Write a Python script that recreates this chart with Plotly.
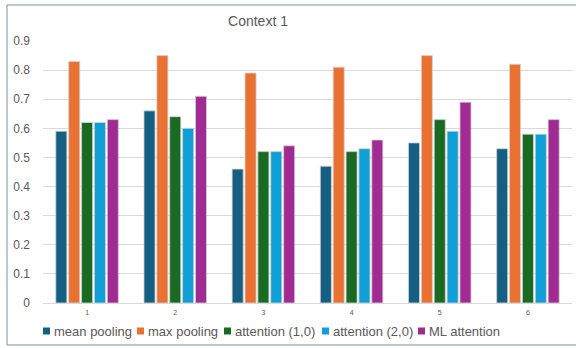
import plotly.graph_objects as go

categories = ["1", "2", "3", "4", "5", "6"]
mean_pooling = [0.59, 0.66, 0.46, 0.47, 0.55, 0.53]
max_pooling = [0.83, 0.85, 0.79, 0.81, 0.85, 0.82]
attention_10 = [0.62, 0.64, 0.52, 0.52, 0.63, 0.58]
attention_20 = [0.62, 0.60, 0.52, 0.53, 0.59, 0.58]
ml_attention = [0.63, 0.71, 0.54, 0.56, 0.69, 0.63]

series = [
    ("mean pooling", mean_pooling, "#156082"),
    ("max pooling", max_pooling, "#E97132"),
    ("attention (1,0)", attention_10, "#196B24"),
    ("attention (2,0)", attention_20, "#0F9ED5"),
    ("ML attention", ml_attention, "#A02B93"),
]

W, H = 576, 348
L, R, T, B = 43, 4, 41, 45

fig = go.Figure()
for name, vals, col in series:
    fig.add_trace(go.Bar(
        x=categories, y=vals, name=name,
        marker=dict(color=col, line=dict(color="#d4d4d4", width=0.8)),
    ))

pw = W - L - R
ph = H - T - B

def px_x(p):
    return (p - L) / pw

def px_y(p):
    return (H - B - p) / ph

shapes = [dict(type="rect", xref="paper", yref="paper",
               x0=px_x(7), x1=px_x(640), y0=px_y(345), y1=px_y(5),
               line=dict(color="#7f8f9c", width=1), fillcolor="rgba(0,0,0,0)",
               layer="below")]
annotations = []
# custom legend (symbol left x positions in px)
legend_x = [43, 137, 224, 322, 418]
ly = 331
for (name, vals, col), x0 in zip(series, legend_x):
    shapes.append(dict(type="rect", xref="paper", yref="paper",
                       x0=px_x(x0), x1=px_x(x0 + 7), y0=px_y(ly + 3.5), y1=px_y(ly - 3.5),
                       fillcolor=col, line=dict(width=0)))
    annotations.append(dict(text=name, xref="paper", yref="paper",
                            x=px_x(x0 + 9), y=px_y(ly), xanchor="left", yanchor="middle",
                            showarrow=False, font=dict(size=13, color="#595959")))

fig.update_layout(
    width=W, height=H,
    margin=dict(l=L, r=R, t=T, b=B, autoexpand=False),
    paper_bgcolor="white", plot_bgcolor="white",
    barmode="group", bargap=0.27, bargroupgap=0.14,
    showlegend=False,
    font=dict(family="Liberation Sans, Arial, sans-serif", color="#595959"),
    title=dict(text="Context 1", x=258 / W, xanchor="center",
               y=1 - 21 / H, yanchor="middle",
               font=dict(size=14, color="#595959")),
    xaxis=dict(showgrid=False, showline=True, linecolor="#d9d9d9", linewidth=1,
               tickfont=dict(size=7, color="#595959"), ticks="",
               ticklabelstandoff=3),
    yaxis=dict(range=[0, 0.9], dtick=0.1, showgrid=True, gridcolor="#d9d9d9",
               gridwidth=1, zeroline=False, showline=False,
               tickfont=dict(size=12, color="#595959"), ticks="",
               ticklabelstandoff=12),
    shapes=shapes,
    annotations=annotations,
)

fig.write_html("out.html")
